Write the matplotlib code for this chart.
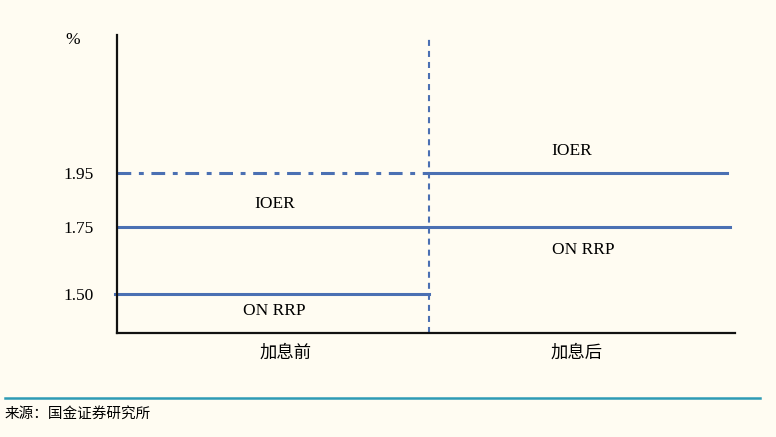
import matplotlib.pyplot as plt
from matplotlib.lines import Line2D

# *********************
# DATA
# *********************
phases = ['加息前', '加息后']
phase_edges = [0.0, 1.01, 1.975]          # start, rate hike, end
ioer_before = 1.75
ioer_after = 1.95
on_rrp_before = 1.50
on_rrp_after = 1.75
ceiling_before = 1.95                     # dash-dot reference level
ytick_values = [1.50, 1.75, 1.95]
ytick_labels = ['1.50', '1.75', '1.95']

BG = '#FFFCF2'
BLUE = '#4B70B3'
SERIF = ['Liberation Serif', 'DejaVu Serif']
CJK = ['Noto Sans CJK SC', 'DejaVu Sans']

# *********************
# PLOT
# *********************
fig = plt.figure(figsize=(7.76, 4.37), dpi=100, facecolor=BG)
ax = fig.add_axes([0.1508, 0.238, 0.7964, 0.682])
ax.set_facecolor(BG)

x0, xm, x1 = phase_edges
lw = 2.2

# before hike
ax.plot([x0, xm], [ceiling_before] * 2, color=BLUE, lw=lw,
        dashes=(4.5, 2.5, 1.6, 2.5), solid_capstyle='butt')
ax.plot([x0 + 0.005, x1 + 0.01], [ioer_before] * 2, color=BLUE, lw=lw)
ax.plot([x0 - 0.005, xm], [on_rrp_before] * 2, color=BLUE, lw=lw, clip_on=False)
# after hike
ax.plot([xm, x1], [ioer_after] * 2, color=BLUE, lw=lw)

# rate hike divider
ax.axvline(xm, color=BLUE, lw=1.5, dashes=(2.9, 2.4), ymax=1.0)

ax.set_xlim(0, 2)
ax.set_ylim(1.355, 2.463)

# series labels
lab = dict(fontsize=12.5, family=SERIF, ha='center', va='center')
ax.text(0.51, ioer_before + 0.085, 'IOER', **lab)
ax.text(0.51, on_rrp_before - 0.065, 'ON RRP', **lab)
ax.text(1.47, ioer_after + 0.08, 'IOER', **lab)
ax.text(1.51, on_rrp_after - 0.085, 'ON RRP', **lab)

# axes styling
for s in ['top', 'right']:
    ax.spines[s].set_visible(False)
for s in ['left', 'bottom']:
    ax.spines[s].set_linewidth(1.6)
    ax.spines[s].set_color('#111111')

ax.set_yticks(ytick_values)
ax.set_yticklabels(ytick_labels, family=SERIF, fontsize=12.5)
ax.tick_params(axis='y', length=0, pad=17)

ax.set_xticks([(x0 + xm) / 2 + 0.04, (xm + x1) / 2 - 0.005])
ax.set_xticklabels(phases, family=CJK, fontsize=12.5)
ax.tick_params(axis='x', length=0, pad=8)

fig.text(73 / 776, 1 - 40 / 437, '%', family=SERIF, fontsize=12.5, ha='center', va='center')

# source footer
fig.add_artist(Line2D([5 / 776, 760 / 776], [1 - 398 / 437] * 2,
                      color='#2E9BB5', lw=1.8, transform=fig.transFigure))
fig.text(5 / 776, 1 - 414 / 437, '来源：国金证券研究所', family=CJK,
         fontsize=10.5, ha='left', va='center')

fig.savefig('out.png', dpi=100, facecolor=BG)
